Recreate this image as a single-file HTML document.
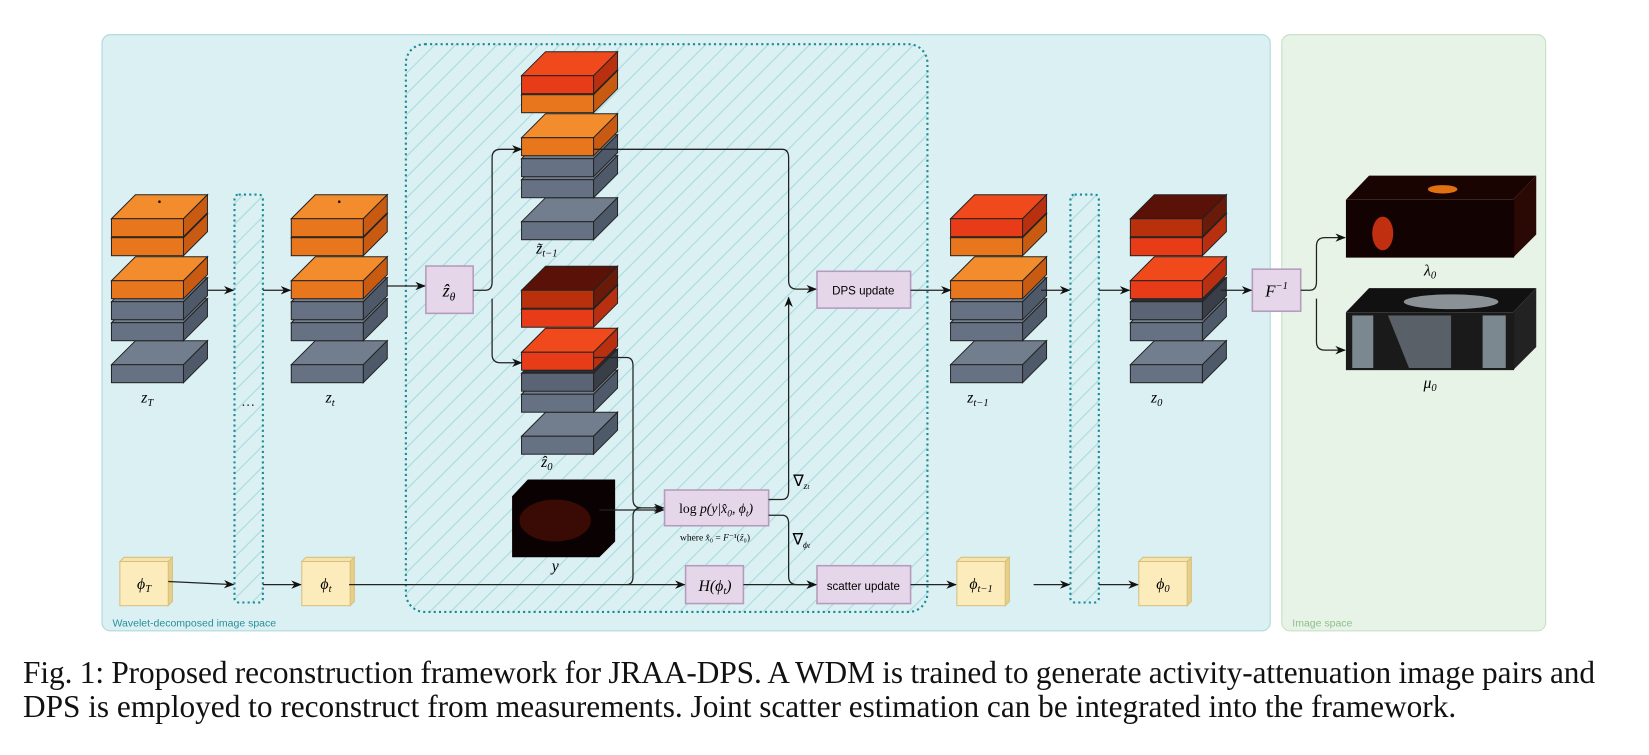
<!DOCTYPE html>
<html><head><meta charset="utf-8"><style>
html,body{margin:0;padding:0;background:#fff;width:1649px;height:755px;overflow:hidden}
svg{display:block}
.m{font-family:"Liberation Serif",serif;font-style:italic}
.s{font-family:"Liberation Sans",sans-serif}
.cap{position:absolute;left:23px;width:1572px;font-family:"Liberation Serif",serif;font-size:31.3px;color:#111;line-height:34px;white-space:nowrap}
.l1{text-align:justify;text-align-last:justify;word-spacing:-2px;letter-spacing:-0.05px}
</style></head><body>
<svg width="1649" height="755" viewBox="0 0 1649 755">
<defs>
<pattern id="h" width="14" height="14" patternUnits="userSpaceOnUse" patternTransform="rotate(45)">
<rect width="14" height="14" fill="#daf0f2"/><line x1="0" y1="0" x2="0" y2="14" stroke="#a9dadf" stroke-width="2"/></pattern>
<marker id="a" markerWidth="10" markerHeight="8" refX="9" refY="4" orient="auto" markerUnits="userSpaceOnUse"><path d="M0,0 L10,4 L0,8 L3,4z" fill="#111"/></marker>
<g id="o"><polygon points="0,0 24,-24 96,-24 72,0" fill="#f28c2c" stroke="#222"/><polygon points="72,0 96,-24 96,-6 72,18" fill="#c85a12" stroke="#222"/><rect width="72" height="18" fill="#e8761c" stroke="#222"/></g>
<g id="r"><polygon points="0,0 24,-24 96,-24 72,0" fill="#f04a1c" stroke="#222"/><polygon points="72,0 96,-24 96,-6 72,18" fill="#b83010" stroke="#222"/><rect width="72" height="18" fill="#e83c18" stroke="#222"/></g>
<g id="k"><polygon points="0,0 24,-24 96,-24 72,0" fill="#5a1208" stroke="#222"/><polygon points="72,0 96,-24 96,-6 72,18" fill="#6a1a08" stroke="#222"/><rect width="72" height="18" fill="#b8300c" stroke="#222"/></g>
<g id="g"><polygon points="0,0 24,-24 96,-24 72,0" fill="#727e8e" stroke="#222"/><polygon points="72,0 96,-24 96,-6 72,18" fill="#4e5a6a" stroke="#222"/><rect width="72" height="18" fill="#667284" stroke="#222"/></g>
<g id="d"><polygon points="0,0 24,-24 96,-24 72,0" fill="#2a2e36" stroke="#222"/><polygon points="72,0 96,-24 96,-6 72,18" fill="#3a3e48" stroke="#222"/><rect width="72" height="18" fill="#5a6474" stroke="#222"/></g>
<g id="stk"><use href="#g" y="146"/><use href="#g" y="104"/><use href="#g" y="83"/><use href="#o" y="62"/><use href="#o" y="19"/><use href="#o" y="0"/><circle cx="48" cy="-17" r="1.3" fill="#111"/></g>
</defs>
<g transform="scale(1.0515)">
<rect x="97" y="33" width="1111" height="567" rx="8" fill="#dbf0f3" stroke="#a9d7dc"/>
<rect x="1219" y="33" width="251" height="567" rx="8" fill="#e8f3e8" stroke="#c3dfc3"/>
<text x="107" y="596" class="s" font-size="10" fill="#2a8f9a">Wavelet-decomposed image space</text>
<text x="1229" y="596" class="s" font-size="10" fill="#8bbf8b">Image space</text>
<rect x="386" y="42" width="496" height="540" rx="18" fill="url(#h)" stroke="#1a8a94" stroke-width="2" stroke-dasharray="2,3"/>
<rect x="223" y="185" width="27" height="388" rx="4" fill="url(#h)" stroke="#1a8a94" stroke-width="2" stroke-dasharray="2,3"/>
<rect x="1018" y="185" width="27" height="388" rx="4" fill="url(#h)" stroke="#1a8a94" stroke-width="2" stroke-dasharray="2,3"/>
<text x="229" y="386" font-size="14" fill="#333" class="s">…</text>
<g transform="translate(106,208) scale(0.951)"><use href="#stk"/></g>
<g transform="translate(277,208) scale(0.951)"><use href="#stk"/></g>
<g transform="translate(496,72) scale(0.951)"><use href="#g" y="146"/><use href="#g" y="104"/><use href="#g" y="83"/><use href="#o" y="62"/><use href="#o" y="19"/><use href="#r" y="0"/></g>
<g transform="translate(496,276) scale(0.951)"><use href="#g" y="146"/><use href="#g" y="104"/><use href="#d" y="83"/><use href="#r" y="62"/><use href="#r" y="19"/><use href="#k" y="0"/></g>
<g transform="translate(904,208) scale(0.951)"><use href="#g" y="146"/><use href="#g" y="104"/><use href="#g" y="83"/><use href="#o" y="62"/><use href="#o" y="19"/><use href="#r" y="0"/></g>
<g transform="translate(1075,208) scale(0.951)"><use href="#g" y="146"/><use href="#g" y="104"/><use href="#d" y="83"/><use href="#r" y="62"/><use href="#r" y="19"/><use href="#k" y="0"/></g>
<polygon points="487,472 502,456 585,456 585,515 570,530 487,530" fill="#0a0202"/>
<ellipse cx="528" cy="495" rx="34" ry="20" fill="#3a0a04"/>
<g><polygon points="1280,190 1302,167 1461,167 1439,190" fill="#1a0402"/><polygon points="1439,190 1461,167 1461,223 1439,245" fill="#2a0804"/><rect x="1280" y="190" width="160" height="55" fill="#120302"/><ellipse cx="1315" cy="222" rx="10" ry="16" fill="#c03010"/><ellipse cx="1372" cy="180" rx="14" ry="4" fill="#e07010"/></g>
<g><polygon points="1280,297 1302,274 1461,274 1439,297" fill="#111"/><polygon points="1439,297 1461,274 1461,330 1439,352" fill="#222"/><rect x="1280" y="297" width="160" height="55" fill="#1a1a1a"/><rect x="1286" y="300" width="20" height="50" fill="#7c8890"/><rect x="1410" y="300" width="22" height="50" fill="#7c8890"/><path d="M1320,300 h60 v50 h-40z" fill="#5a6068"/><ellipse cx="1380" cy="287" rx="45" ry="7" fill="#8a9298"/></g>
<g fill="#e5d6e9" stroke="#b59cbe" stroke-width="1.5">
<rect x="405" y="253" width="45" height="45"/><rect x="777" y="258" width="89" height="35"/><rect x="632" y="466" width="99" height="34"/><rect x="652" y="538" width="55" height="36"/><rect x="777" y="538" width="89" height="36"/><rect x="1191" y="256" width="46" height="40"/></g>
<text x="427" y="282" class="m" font-size="17" text-anchor="middle">ẑ<tspan font-size="11" dy="4">θ</tspan></text>
<text x="821" y="280" class="s" font-size="11" text-anchor="middle">DPS update</text>
<text x="821" y="561" class="s" font-size="11" text-anchor="middle">scatter update</text>
<text x="681" y="488" class="m" font-size="13" text-anchor="middle"><tspan font-style="normal">log</tspan> p(y|x̂<tspan font-size="9" dy="3">0</tspan><tspan dy="-3">, ϕ</tspan><tspan font-size="9" dy="3">t</tspan><tspan dy="-3">)</tspan></text>
<text x="680" y="514" font-family="Liberation Serif,serif" font-size="9" text-anchor="middle">where <tspan font-style="italic">x̂</tspan>₀ = <tspan font-style="italic">F</tspan>⁻¹(<tspan font-style="italic">ẑ</tspan>₀)</text>
<text x="680" y="562" class="m" font-size="15" text-anchor="middle">H(ϕ<tspan font-size="10" dy="3">t</tspan><tspan dy="-3">)</tspan></text>
<text x="1214" y="282" class="m" font-size="16" text-anchor="middle">F<tspan font-size="10" dy="-7">−1</tspan></text>
<g stroke="#d8c080" stroke-width="1">
<g transform="translate(114,534)"><polygon points="46,0 50,-4 50,38 46,42" fill="#e8cf88"/><polygon points="0,0 4,-4 50,-4 46,0" fill="#f6e4aa"/><rect width="46" height="42" fill="#fcecbc"/></g>
<g transform="translate(287,534)"><polygon points="46,0 50,-4 50,38 46,42" fill="#e8cf88"/><polygon points="0,0 4,-4 50,-4 46,0" fill="#f6e4aa"/><rect width="46" height="42" fill="#fcecbc"/></g>
<g transform="translate(910,534)"><polygon points="46,0 50,-4 50,38 46,42" fill="#e8cf88"/><polygon points="0,0 4,-4 50,-4 46,0" fill="#f6e4aa"/><rect width="46" height="42" fill="#fcecbc"/></g>
<g transform="translate(1083,534)"><polygon points="46,0 50,-4 50,38 46,42" fill="#e8cf88"/><polygon points="0,0 4,-4 50,-4 46,0" fill="#f6e4aa"/><rect width="46" height="42" fill="#fcecbc"/></g>
</g>
<g class="m" font-size="15" text-anchor="middle">
<text x="137" y="560">ϕ<tspan font-size="10" dy="3">T</tspan></text>
<text x="310" y="560">ϕ<tspan font-size="10" dy="3">t</tspan></text>
<text x="933" y="560">ϕ<tspan font-size="10" dy="3">t−1</tspan></text>
<text x="1106" y="560">ϕ<tspan font-size="10" dy="3">0</tspan></text>
<text x="140" y="383">z<tspan font-size="10" dy="3">T</tspan></text>
<text x="314" y="383">z<tspan font-size="10" dy="3">t</tspan></text>
<text x="520" y="241">z̃<tspan font-size="10" dy="3">t−1</tspan></text>
<text x="520" y="444">ẑ<tspan font-size="10" dy="3">0</tspan></text>
<text x="528" y="543">y</text>
<text x="930" y="383">z<tspan font-size="10" dy="3">t−1</tspan></text>
<text x="1100" y="383">z<tspan font-size="10" dy="3">0</tspan></text>
<text x="1360" y="262">λ<tspan font-size="10" dy="3">0</tspan></text>
<text x="1360" y="369">μ<tspan font-size="10" dy="3">0</tspan></text>
<text x="762" y="462" font-style="normal">∇<tspan font-size="9" font-style="italic" dy="3">z<tspan font-size="7">t</tspan></tspan></text>
<text x="762" y="518" font-style="normal">∇<tspan font-size="9" font-style="italic" dy="3">ϕ<tspan font-size="7">t</tspan></tspan></text>
</g>
<g fill="none" stroke="#222" stroke-width="1.2" marker-end="url(#a)">
<path d="M197,276 H222"/><path d="M250,276 H276"/><path d="M368,272 H404"/>
<path d="M450,276 H462 Q468,276 468,268 V150 Q468,142 476,142 H496"/>
<path d="M468,284 V337 Q468,345 476,345 H496"/>
<path d="M565,142 H744 Q750,142 750,150 V267 Q750,275 758,275 H776"/>
<path d="M565,340 H596 Q602,340 602,348 V475 Q602,483 610,483 H631"/>
<path d="M570,485 H631"/>
<path d="M731,475 H744 Q750,475 750,467 V283"/>
<path d="M731,490 H744 Q750,490 750,498 V548 Q750,556 758,556 H776"/>
<path d="M332,556 H651"/>
<path d="M707,556 H776"/>
<path d="M866,276 H904"/><path d="M990,276 H1017"/><path d="M1045,276 H1074"/>
<path d="M1161,276 H1190"/>
<path d="M1237,276 H1246 Q1252,276 1252,268 V234 Q1252,226 1260,226 H1279"/>
<path d="M1252,284 V325 Q1252,333 1260,333 H1279"/>
<path d="M160,553 L222,556"/><path d="M250,556 H286"/>
<path d="M866,556 H909"/><path d="M983,556 H1017"/><path d="M1045,556 H1082"/>
</g>
<path d="M596,556 Q602,556 602,548 V491 Q602,483 610,483" fill="none" stroke="#222" stroke-width="1.2"/>
</g>
</svg>
<div class="cap" style="top:656px"><div class="l1">Fig. 1: Proposed reconstruction framework for JRAA-DPS. A WDM is trained to generate activity-attenuation image pairs and</div><div>DPS is employed to reconstruct from measurements. Joint scatter estimation can be integrated into the framework.</div></div>
</body></html>
